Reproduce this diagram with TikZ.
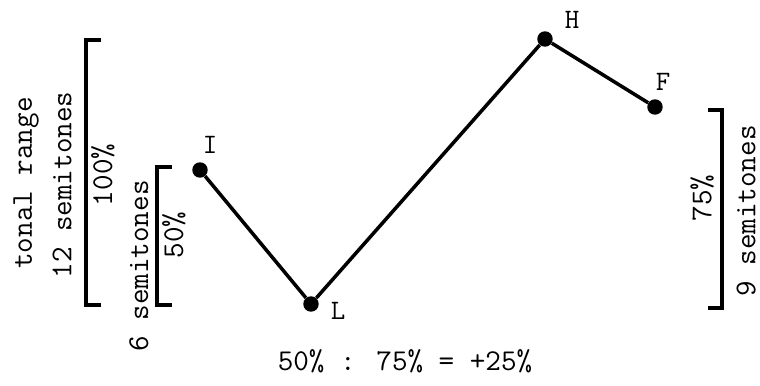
\documentclass[tikz,border=0pt]{standalone}
\usepackage{fontspec}
\usepackage{tikz}
\usetikzlibrary{calc,positioning}

\begin{document}
\begin{tikzpicture}[x=0.025cm,y=-0.025cm,
  pt/.style={circle,fill=black,inner sep=0pt,minimum size=11pt},
  lbl/.style={font=\ttfamily\fontsize{20}{22}\selectfont,inner sep=1pt},
  vtxt/.style={font=\ttfamily\fontsize{21.5}{24}\selectfont,rotate=90,inner sep=0pt},
  contour/.style={line width=2.5pt},
  bracket/.style={line width=2.5pt},
]
\useasboundingbox (0,0) rectangle (760,386);

% CONTOUR POINTS
\node[pt] (I) at (200,170) {};
\node[pt] (L) at (311,304) {};
\node[pt] (H) at (545,39) {};
\node[pt] (F) at (655,107) {};
\node[lbl] (Ilbl) at (210,145) {I};
\node[lbl] (Llbl) at (338,311) {L};
\node[lbl] (Hlbl) at (572,20) {H};
\node[lbl] (Flbl) at (663,82) {F};

\draw[contour] (I) -- (L) -- (H) -- (F);

% LEFT BRACKETS
\coordinate (bigtop) at (86,40);
\coordinate (bigbot) at (86,305);
\draw[bracket] ($(bigtop)+(15,0)$) -- (bigtop) -- (bigbot) -- ++(15,0);
\coordinate (smtop) at (157,167);
\coordinate (smbot) at (157,305);
\draw[bracket] ($(smtop)+(15,0)$) -- (smtop) -- (smbot) -- ++(15,0);

\node[vtxt] (range) at (26,183) {tonal range};
\node[vtxt] (twelve) at (62,185) {12 semitones};
\node[vtxt] (hundred) at (103,175) {100\%};
\node[vtxt] (six) at (139,266) {6 semitones};
\node[vtxt] (fifty) at (174,235) {50\%};

% RIGHT BRACKET
\coordinate (rtop) at (722,110);
\coordinate (rbot) at (722,308);
\draw[bracket] ($(rtop)+(-14,0)$) -- (rtop) -- (rbot) -- ++(-14,0);
\node[vtxt] (seventyfive) at (702,198) {75\%};
\node[vtxt] (nine) at (746,211) {9 semitones};

% RESULT
\node[lbl,font=\ttfamily\fontsize{21.5}{24}\selectfont] (result) at (405,361) {50\% : 75\% = +25\%};
\end{tikzpicture}
\end{document}
